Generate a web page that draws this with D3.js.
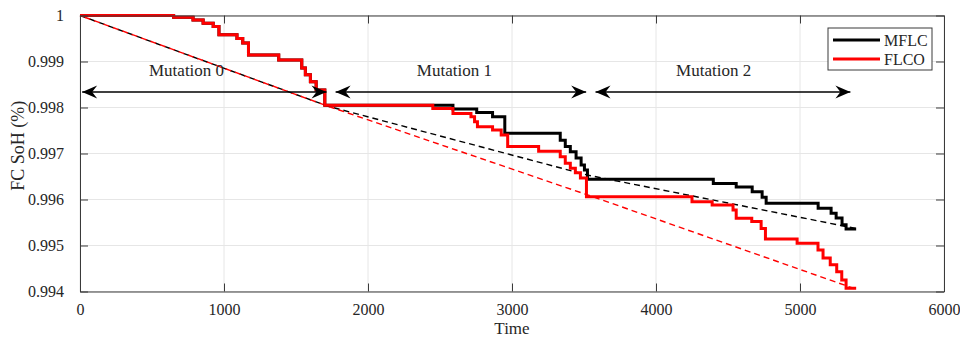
<!DOCTYPE html>
<html>
<head>
<meta charset="utf-8">
<script src="https://cdn.jsdelivr.net/npm/d3@7"></script>
<style>
  body { margin: 0; background: #fff; }
  svg text { font-family: "Liberation Serif", "Times New Roman", serif; fill: #262626; }
</style>
</head>
<body>
<div id="chart"></div>
<script>
// ---- data ----
var xTicks = [0, 1000, 2000, 3000, 4000, 5000, 6000]
var yTicks = [0.994, 0.995, 0.996, 0.997, 0.998, 0.999, 1]

// FLCO (red) step line
var flcoTime = [0, 650, 785, 855, 925, 965, 1090, 1130, 1170, 1380, 1540, 1565, 1600, 1640, 1700,
  2450, 2590, 2715, 2740, 2760, 2865, 2925, 2970, 3185, 3335, 3370, 3405, 3440, 3475, 3517,
  4250, 4390, 4535, 4557, 4665, 4730, 4760, 4980, 5125, 5160, 5210, 5255, 5290, 5320, 5390]
var flcoSoh = [1.0, 0.99996, 0.9999, 0.99983, 0.99976, 0.99958, 0.9995, 0.9994, 0.99914, 0.99903,
  0.99886, 0.99871, 0.99856, 0.99838, 0.99805, 0.99798, 0.99787, 0.9978, 0.99769, 0.99758,
  0.99751, 0.9974, 0.99715, 0.99705, 0.99693, 0.99679, 0.99668, 0.99658, 0.99647, 0.99606,
  0.99595, 0.99588, 0.99577, 0.99559, 0.99552, 0.99537, 0.99514, 0.99505, 0.9949, 0.99473,
  0.99458, 0.99443, 0.99425, 0.99407, 0.99407]

// MFLC (black) step line - same as FLCO until ~2450
var mflcTime = [0, 650, 785, 855, 925, 965, 1090, 1130, 1170, 1380, 1540, 1565, 1600, 1640, 1700,
  2590, 2755, 2865, 2950, 3335, 3370, 3405, 3445, 3480, 3503, 3524,
  4398, 4557, 4668, 4737, 4765, 5126, 5216, 5251, 5292, 5320, 5390]
var mflcSoh = [1.0, 0.99996, 0.9999, 0.99983, 0.99976, 0.99958, 0.9995, 0.9994, 0.99914, 0.99903,
  0.99886, 0.99871, 0.99856, 0.99838, 0.99805,
  0.99797, 0.99789, 0.9978, 0.99744, 0.99729, 0.99715, 0.99704, 0.9969, 0.99675, 0.99664, 0.99644,
  0.99635, 0.99627, 0.99617, 0.99605, 0.99592, 0.99581, 0.9957, 0.9956, 0.99545, 0.99536, 0.99536]

// dashed trend lines
var trendTime = [0, 1720, 3525, 5390]
var mflcTrend = [1.0, 0.99803, 0.99653, 0.99537]
var flcoTrend = [1.0, 0.99803, 0.9961, 0.99405]

// mutation arrows (time extents) and labels
var mutationLabels = ["Mutation 0", "Mutation 1", "Mutation 2"]
var mutationStart = [15, 1775, 3580]
var mutationEnd = [1712, 3515, 5350]
var mutationLabelX = [740, 2600, 4400]
var arrowSoh = 0.998337
var labelSoh = 0.99868

var seriesNames = ["MFLC", "FLCO"]
var seriesColors = ["#000000", "#ff0000"]

// ---- chart ----
var serif = "'Liberation Serif', 'Times New Roman', serif";
var margin = {top: 15.5, right: 16, bottom: 45.5, left: 80},
    width = 960 - margin.left - margin.right,
    height = 337 - margin.top - margin.bottom;

var svg = d3.select("#chart").append("svg")
    .attr("width", 960)
    .attr("height", 337)
  .append("g")
    .attr("transform", "translate(" + margin.left + "," + margin.top + ")");

var x = d3.scaleLinear().domain([0, 6000]).range([0, width]);
var y = d3.scaleLinear().domain([0.994, 1]).range([height, 0]);

// grid
svg.append("g").selectAll("line").data(xTicks).enter().append("line")
    .attr("x1", function(d) { return x(d); }).attr("x2", function(d) { return x(d); })
    .attr("y1", 0).attr("y2", height)
    .attr("stroke", "#e6e6e6").attr("stroke-width", 1);
svg.append("g").selectAll("line").data(yTicks).enter().append("line")
    .attr("y1", function(d) { return y(d); }).attr("y2", function(d) { return y(d); })
    .attr("x1", 0).attr("x2", width)
    .attr("stroke", "#e6e6e6").attr("stroke-width", 1);

// pack up points
function pts(t, v) { return t.map(function(d, i) { return {t: d, v: v[i]}; }); }

var stepLine = d3.line()
    .x(function(d) { return x(d.t); })
    .y(function(d) { return y(d.v); })
    .curve(d3.curveStepAfter);
var straight = d3.line()
    .x(function(d) { return x(d.t); })
    .y(function(d) { return y(d.v); });

// trend lines (black first, red on top with shifted dashes)
svg.append("path").datum(pts(trendTime, mflcTrend))
    .attr("d", straight).attr("fill", "none")
    .attr("stroke", "#000").attr("stroke-width", 1.4)
    .attr("stroke-dasharray", "6,4");
svg.append("path").datum(pts(trendTime, flcoTrend))
    .attr("d", straight).attr("fill", "none")
    .attr("stroke", "#ff0000").attr("stroke-width", 1.4)
    .attr("stroke-dasharray", "6,4").attr("stroke-dashoffset", 5);

// step lines
svg.append("path").datum(pts(mflcTime, mflcSoh))
    .attr("d", stepLine).attr("fill", "none")
    .attr("stroke", "#000").attr("stroke-width", 3);
svg.append("path").datum(pts(flcoTime, flcoSoh))
    .attr("d", stepLine).attr("fill", "none")
    .attr("stroke", "#ff0000").attr("stroke-width", 3);

// axes box
var axisColor = "#3a3a3a";
var xAxis = d3.axisBottom(x).tickValues(xTicks).tickSizeInner(-8).tickSizeOuter(0).tickPadding(12)
    .tickFormat(function(d) { return d; });
var yAxis = d3.axisLeft(y).tickValues(yTicks).tickSizeInner(-8).tickSizeOuter(0).tickPadding(16)
    .tickFormat(function(d) { return d === 1 ? "1" : d3.format(".3f")(d); });

var gx = svg.append("g").attr("transform", "translate(0," + height + ")").call(xAxis);
var gy = svg.append("g").call(yAxis);
var gx2 = svg.append("g").call(d3.axisTop(x).tickValues(xTicks).tickSizeInner(-8).tickSizeOuter(0).tickFormat(""));
var gy2 = svg.append("g").attr("transform", "translate(" + width + ",0)")
    .call(d3.axisRight(y).tickValues(yTicks).tickSizeInner(-8).tickSizeOuter(0).tickFormat(""));

[gx, gy, gx2, gy2].forEach(function(g) {
    g.attr("font-family", serif).attr("font-size", 16);
    g.selectAll("path").attr("stroke", axisColor);
    g.selectAll("line").attr("stroke", axisColor);
    g.selectAll("text").attr("fill", "#262626");
});

// axis titles
svg.append("text")
    .attr("x", width / 2).attr("y", height + 42)
    .attr("text-anchor", "middle")
    .attr("font-family", serif).attr("font-size", 17)
    .text("Time");
svg.append("text")
    .attr("transform", "translate(" + (-56) + "," + (y(0.99717)) + ") rotate(-90)")
    .attr("text-anchor", "middle")
    .attr("font-family", serif).attr("font-size", 18)
    .text("FC SoH (%)");

// arrow markers
var defs = d3.select("svg").append("defs");
defs.append("marker")
    .attr("id", "head")
    .attr("viewBox", "-16 -8 18 16")
    .attr("refX", 0).attr("refY", 0)
    .attr("markerWidth", 18).attr("markerHeight", 16)
    .attr("markerUnits", "userSpaceOnUse")
    .attr("orient", "auto-start-reverse")
  .append("path")
    .attr("d", "M0,0 L-15,-6.5 L-10,0 L-15,6.5 Z")
    .attr("fill", "#000");

mutationLabels.forEach(function(label, i) {
    svg.append("line")
        .attr("x1", x(mutationStart[i])).attr("x2", x(mutationEnd[i]))
        .attr("y1", y(arrowSoh)).attr("y2", y(arrowSoh))
        .attr("stroke", "#000").attr("stroke-width", 1.5)
        .attr("marker-start", "url(#head)")
        .attr("marker-end", "url(#head)");
    svg.append("text")
        .attr("x", x(mutationLabelX[i])).attr("y", y(labelSoh))
        .attr("text-anchor", "middle")
        .attr("font-family", serif).attr("font-size", 17)
        .text(label);
});

// legend
var legend = svg.append("g").attr("transform", "translate(" + (828 - margin.left) + "," + (28 - margin.top) + ")");
legend.append("rect")
    .attr("width", 104).attr("height", 42)
    .attr("fill", "#fff").attr("stroke", "#3a3a3a").attr("stroke-width", 1);
seriesNames.forEach(function(name, i) {
    var ly = 12 + i * 19;
    legend.append("line")
        .attr("x1", 5).attr("x2", 52).attr("y1", ly).attr("y2", ly)
        .attr("stroke", seriesColors[i]).attr("stroke-width", 3);
    legend.append("text")
        .attr("x", 56).attr("y", ly + 5.5)
        .attr("font-family", serif).attr("font-size", 16)
        .text(name);
});
</script>
</body>
</html>
